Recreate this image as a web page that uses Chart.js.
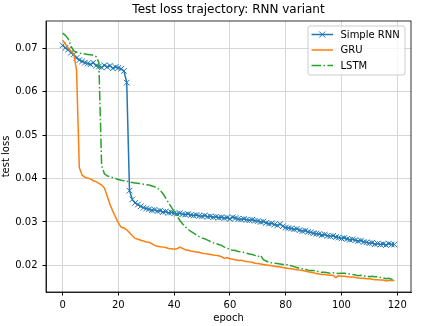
<!DOCTYPE html>
<html>
<head>
<meta charset="utf-8">
<script src="https://cdn.jsdelivr.net/npm/chart.js@4.4.1/dist/chart.umd.min.js"></script>
<style>
  html, body { margin: 0; padding: 0; background: #fff; }
</style>
</head>
<body>
<canvas id="loss-chart" width="423" height="326"></canvas>
<script>
// epoch index 0..119 (x positions)
const epochs = Array.from({ length: 120 }, (_, i) => i);

const simpleRnn = [
    0.0707, 0.0701, 0.0697, 0.0690, 0.0686, 0.0678, 0.0673, 0.0670, 0.0667, 0.0665,
    0.0663, 0.0667, 0.0660, 0.0658, 0.0656, 0.0661, 0.0657, 0.0660, 0.0654, 0.0657,
    0.0655, 0.0653, 0.0648, 0.0621,
    0.0372, 0.0352, 0.0344, 0.0340, 0.0336, 0.0333, 0.0331, 0.0329, 0.0327, 0.0328,
    0.0325, 0.0326, 0.0323, 0.0324, 0.0321, 0.0322, 0.0320,
    0.0319, 0.0320, 0.0318, 0.0317, 0.0318, 0.0316, 0.0315, 0.0316, 0.0314, 0.0313,
    0.0315, 0.0312, 0.0313, 0.0311, 0.0312, 0.0310, 0.0311, 0.0309, 0.0310, 0.0307,
    0.0311, 0.0309, 0.0307, 0.0306, 0.0307, 0.0305, 0.0304, 0.0305, 0.0303, 0.0302,
    0.0300, 0.0301, 0.0298, 0.0296, 0.0297, 0.0294, 0.0292, 0.0295, 0.0290, 0.0287,
    0.0286, 0.0285, 0.0283, 0.0284, 0.0281, 0.0279, 0.0280, 0.0277, 0.0276, 0.0274,
    0.0273, 0.0272, 0.0270, 0.0271, 0.0268, 0.0267, 0.0268, 0.0265, 0.0264, 0.0262,
    0.0263, 0.0261, 0.0259, 0.0260, 0.0258, 0.0256, 0.0257, 0.0254, 0.0253, 0.0251,
    0.0252, 0.0249, 0.0250, 0.0248, 0.0249, 0.0247, 0.0250, 0.0248, 0.0248,
];

const gru = [
    0.0719, 0.0710, 0.0701, 0.0694, 0.0687, 0.0650,
    0.0425, 0.0408, 0.0403, 0.0401, 0.0399, 0.0395, 0.0393, 0.0389, 0.0385, 0.0378,
    0.0360, 0.0340, 0.0325, 0.0311, 0.0298, 0.0288, 0.0286, 0.0282, 0.0275, 0.0268,
    0.0262, 0.0260, 0.0258, 0.0256, 0.0254, 0.0253, 0.0250, 0.0246, 0.0244, 0.0243,
    0.0242, 0.0241, 0.0239, 0.0238, 0.0237, 0.0238, 0.0242, 0.0239, 0.0236, 0.0235,
    0.0233, 0.0232, 0.0231, 0.0230, 0.0228, 0.0227, 0.0226, 0.0225, 0.0224, 0.0223,
    0.0222, 0.0220, 0.0216, 0.0218, 0.0215,
    0.0214, 0.0213, 0.0211, 0.0212, 0.0210, 0.0209, 0.0208, 0.0207, 0.0205, 0.0204,
    0.0203, 0.0202, 0.0201, 0.0200, 0.0199, 0.0198, 0.0197, 0.0196, 0.0195, 0.0194,
    0.0193, 0.0192, 0.0191, 0.0190, 0.0189, 0.0188, 0.0187, 0.0185, 0.0184, 0.0183,
    0.0181, 0.0180, 0.0179, 0.0179, 0.0178, 0.0177, 0.0177, 0.0172, 0.0176, 0.0175,
    0.0175, 0.0174, 0.0173, 0.0173, 0.0172, 0.0171, 0.0170, 0.0170, 0.0169, 0.0169,
    0.0168, 0.0167, 0.0167, 0.0166, 0.0166, 0.0164, 0.0165, 0.0165, 0.0165,
];

const lstm = [
    0.0735, 0.0730, 0.0722, 0.0705, 0.0694, 0.0691, 0.0689, 0.0688, 0.0687, 0.0686,
    0.0685, 0.0684, 0.0681, 0.0668,
    0.0430, 0.0411, 0.0406, 0.0404, 0.0402, 0.0400, 0.0398, 0.0396, 0.0395, 0.0394,
    0.0392, 0.0391, 0.0390,
    0.0389, 0.0388, 0.0387, 0.0386, 0.0385, 0.0383, 0.0381, 0.0378, 0.0373, 0.0365,
    0.0355, 0.0344, 0.0334, 0.0324, 0.0314, 0.0304, 0.0296, 0.0289, 0.0283, 0.0278,
    0.0274, 0.0270, 0.0266, 0.0263, 0.0261, 0.0258, 0.0255, 0.0252, 0.0250, 0.0248,
    0.0246, 0.0242, 0.0240, 0.0236,
    0.0235, 0.0234, 0.0232, 0.0231, 0.0230, 0.0228, 0.0226, 0.0225, 0.0223, 0.0220,
    0.0223, 0.0213, 0.0210, 0.0207, 0.0206, 0.0205, 0.0204, 0.0203, 0.0202, 0.0203,
    0.0200, 0.0199, 0.0197, 0.0195, 0.0193, 0.0192, 0.0191, 0.0189, 0.0188, 0.0188,
    0.0187, 0.0185, 0.0184, 0.0184, 0.0183, 0.0182, 0.0183, 0.0182, 0.0181, 0.0182,
    0.0182, 0.0181, 0.0180, 0.0179, 0.0178, 0.0176, 0.0177, 0.0175, 0.0176, 0.0174,
    0.0175, 0.0174, 0.0174, 0.0172, 0.0171, 0.0169, 0.0170, 0.0168, 0.0167,
];

const xTicks = [0, 20, 40, 60, 80, 100, 120];
const yTicks = [0.02, 0.03, 0.04, 0.05, 0.06, 0.07];

const toPoints = (vals) => vals.map((v, i) => ({ x: epochs[i], y: v }));

Chart.defaults.font.family = "'DejaVu Sans', sans-serif";
Chart.defaults.font.size = 10;
Chart.defaults.color = '#000';

// box around the plot + matplotlib-like legend in the upper right
const frameAndLegend = {
    id: 'frameAndLegend',
    afterDraw(chart) {
        const ctx = chart.ctx;
        const a = chart.chartArea;
        ctx.save();
        ctx.strokeStyle = '#000';
        ctx.lineWidth = 0.8;
        ctx.strokeRect(a.left, a.top, a.right - a.left, a.bottom - a.top);

        const w = 97, h = 49;
        const bx = a.right - 6 - w, by = a.top + 5;
        ctx.beginPath();
        ctx.roundRect(bx, by, w, h, 2);
        ctx.fillStyle = 'rgba(255,255,255,0.8)';
        ctx.fill();
        ctx.strokeStyle = '#cccccc';
        ctx.lineWidth = 1;
        ctx.stroke();

        ctx.font = "10px 'DejaVu Sans', sans-serif";
        ctx.textBaseline = 'middle';
        ctx.textAlign = 'left';
        chart.data.datasets.forEach((ds, i) => {
            const y = by + 8.5 + i * 15.5;
            const x0 = bx + 3.5, x1 = bx + 25;
            ctx.strokeStyle = ds.borderColor;
            ctx.lineWidth = ds.borderWidth;
            ctx.setLineDash(ds.borderDash || []);
            ctx.beginPath();
            ctx.moveTo(x0, y);
            ctx.lineTo(x1, y);
            ctx.stroke();
            ctx.setLineDash([]);
            if (ds.pointRadius > 0) {
                const cx = (x0 + x1) / 2, r = 3;
                ctx.lineWidth = 1;
                ctx.beginPath();
                ctx.moveTo(cx - r, y - r); ctx.lineTo(cx + r, y + r);
                ctx.moveTo(cx - r, y + r); ctx.lineTo(cx + r, y - r);
                ctx.stroke();
            }
            ctx.fillStyle = '#000';
            ctx.fillText(ds.label, bx + 32.5, y + 0.5);
        });
        ctx.restore();
    }
};

const config = {
    type: 'line',
    data: {
        datasets: [{
            label: 'Simple RNN',
            data: toPoints(simpleRnn),
            borderColor: '#1f77b4',
            borderWidth: 1.5,
            pointStyle: 'crossRot',
            pointRadius: 4,
            pointBorderWidth: 1,
            pointBorderColor: '#1f77b4',
            order: 2,
        }, {
            label: 'GRU',
            data: toPoints(gru),
            borderColor: '#ff7f0e',
            borderWidth: 1.5,
            pointRadius: 0,
            order: 1,
        }, {
            label: 'LSTM',
            data: toPoints(lstm),
            borderColor: '#2ca02c',
            borderWidth: 1.5,
            borderDash: [9.6, 2.4, 1.5, 2.4],
            pointRadius: 0,
            order: 0,
        }]
    },
    options: {
        responsive: false,
        animation: false,
        devicePixelRatio: 1,
        layout: { padding: { left: 0, right: 12, top: 0, bottom: 0 } },
        elements: { line: { tension: 0 } },
        plugins: {
            legend: { display: false },
            tooltip: { enabled: false },
            title: {
                display: true,
                text: 'Test loss trajectory: RNN variant',
                font: { size: 12, weight: 'normal' },
                padding: { top: 3, bottom: 3.6 },
                fullSize: false,
            },
        },
        scales: {
            x: {
                type: 'linear',
                min: -5.95,
                max: 124.95,
                afterFit: (s) => { s.height = 34; },
                afterBuildTicks: (s) => { s.ticks = xTicks.map(v => ({ value: v })); },
                ticks: { padding: 3.5, maxRotation: 0 },
                grid: { color: '#d6d6d6', lineWidth: 1, tickLength: 3.5, tickColor: '#000' },
                border: { color: '#000', width: 0.8 },
                title: { display: true, text: 'epoch', padding: { top: 0, bottom: 2 } },
            },
            y: {
                min: 0.01386,
                max: 0.0763,
                afterFit: (s) => { s.width = 46; },
                afterBuildTicks: (s) => { s.ticks = yTicks.map(v => ({ value: v })); },
                ticks: { padding: 5, callback: (v) => v.toFixed(2) },
                grid: { color: '#d6d6d6', lineWidth: 1, tickLength: 3.5, tickColor: '#000' },
                border: { color: '#000', width: 0.8 },
                title: { display: true, text: 'test loss', padding: { top: 0, bottom: 0 } },
            },
        },
    },
    plugins: [frameAndLegend],
};

const lossChart = new Chart(document.getElementById('loss-chart'), config);
</script>
</body>
</html>
